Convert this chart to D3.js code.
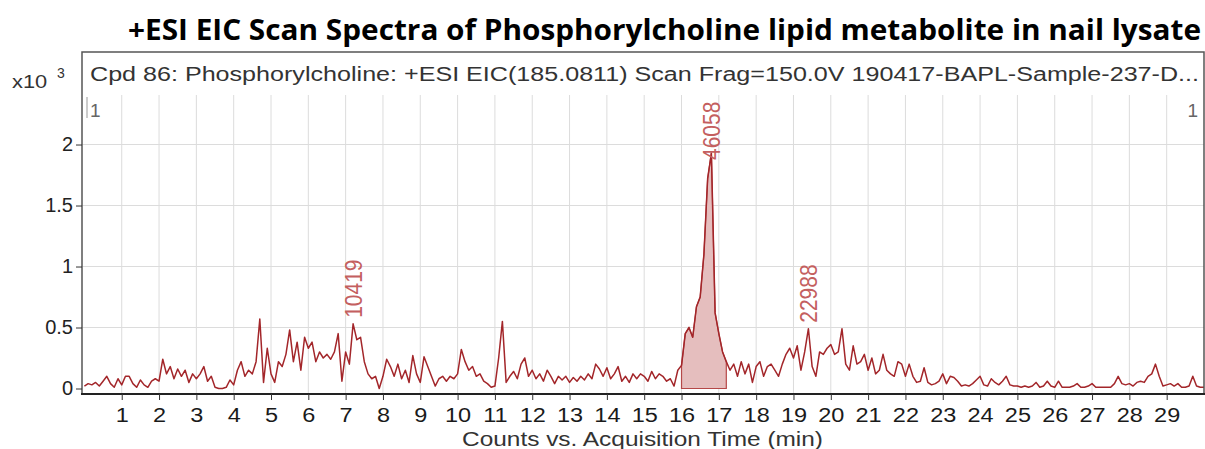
<!DOCTYPE html>
<html><head><meta charset="utf-8">
<script src="https://cdn.jsdelivr.net/npm/d3@7"></script>
<style>body{margin:0;background:#fff} svg{display:block}</style>
</head><body><svg id="c" width="1205" height="449"></svg>
<script>
// ---- data (counts x10^3, one reading every 0.1 min from 0.0 to 30.0 min) ----
const timeStep = 0.1;
const intensity = [
 0.02,0.04,0.03,0.05,0.02,0.06,0.10,0.04,0.01,0.08,
 0.03,0.10,0.10,0.04,0.01,0.07,0.03,0.01,0.06,0.08,
 0.06,0.24,0.12,0.18,0.08,0.16,0.10,0.15,0.05,0.12,
 0.08,0.12,0.18,0.06,0.10,0.01,0.00,0.00,0.01,0.07,
 0.03,0.15,0.22,0.10,0.15,0.12,0.22,0.57,0.05,0.33,
 0.12,0.05,0.22,0.18,0.28,0.48,0.22,0.38,0.15,0.42,
 0.33,0.38,0.22,0.30,0.25,0.28,0.24,0.30,0.45,0.06,
 0.30,0.20,0.53,0.40,0.42,0.22,0.12,0.08,0.10,0.00,
 0.10,0.24,0.18,0.10,0.20,0.08,0.15,0.05,0.27,0.12,
 0.05,0.26,0.18,0.10,0.02,0.08,0.10,0.06,0.10,0.08,
 0.12,0.32,0.22,0.15,0.18,0.10,0.12,0.06,0.04,0.01,
 0.02,0.25,0.55,0.05,0.10,0.14,0.08,0.20,0.25,0.10,
 0.15,0.08,0.12,0.06,0.15,0.10,0.04,0.10,0.07,0.10,
 0.05,0.09,0.06,0.10,0.07,0.12,0.08,0.20,0.16,0.10,
 0.17,0.08,0.12,0.18,0.06,0.10,0.05,0.12,0.08,0.12,
 0.10,0.06,0.14,0.08,0.12,0.10,0.06,0.08,0.02,0.15,
 0.19,0.45,0.50,0.42,0.67,0.75,1.10,1.72,1.93,0.62,
 0.45,0.30,0.22,0.15,0.20,0.10,0.22,0.12,0.20,0.05,
 0.18,0.22,0.10,0.18,0.20,0.15,0.10,0.20,0.28,0.33,
 0.25,0.35,0.15,0.30,0.49,0.18,0.10,0.30,0.28,0.33,
 0.36,0.28,0.30,0.49,0.20,0.15,0.35,0.20,0.22,0.28,
 0.15,0.25,0.12,0.15,0.28,0.15,0.12,0.10,0.22,0.20,
 0.10,0.20,0.10,0.05,0.06,0.17,0.05,0.03,0.04,0.06,
 0.12,0.04,0.10,0.09,0.06,0.02,0.03,0.02,0.04,0.07,
 0.10,0.03,0.02,0.08,0.05,0.03,0.06,0.10,0.03,0.02,
 0.02,0.01,0.02,0.01,0.02,0.05,0.01,0.02,0.06,0.02,
 0.01,0.06,0.01,0.01,0.01,0.02,0.04,0.01,0.01,0.02,
 0.04,0.01,0.01,0.01,0.01,0.01,0.04,0.10,0.04,0.03,
 0.04,0.02,0.05,0.06,0.05,0.10,0.12,0.20,0.10,0.02,
 0.03,0.04,0.02,0.04,0.01,0.01,0.02,0.10,0.02,0.01,
 0.01
];
const xTickValues = [1,2,3,4,5,6,7,8,9,10,11,12,13,14,15,16,17,18,19,20,21,22,23,24,25,26,27,28,29];
const yTickValues = [0,0.5,1,1.5,2];
const yTickLabels = ["0","0.5","1","1.5","2"];
const peakTimes = [7.2, 16.8, 19.4];
const peakHeights = [0.53, 1.93, 0.49];
const peakAreas = ["10419","46058","22988"];
const integration = [16.0, 17.2];
const titleText = "+ESI EIC Scan Spectra of Phosphorylcholine lipid metabolite in nail lysate";
const headerText = "Cpd 86: Phosphorylcholine: +ESI EIC(185.0811) Scan Frag=150.0V 190417-BAPL-Sample-237-D...";
const xTitle = "Counts vs. Acquisition Time (min)";

// ---- layout ----
const svg = d3.select("#c");
const F = "'Liberation Sans', Arial, sans-serif";
const frame = {l:82, r:1204, t:52, b:394};
const plotTop = 95;
const x = d3.scaleLinear().domain([0,30]).range([84.4,1204]);
const y = d3.scaleLinear().domain([-0.045,2.406]).range([394,plotTop]);
const pts = intensity.map((v,i)=>({t:+(i*timeStep).toFixed(2), v}));

// title
svg.append("text").attr("x",128).attr("y",40)
  .attr("font-family","'Open Sans', sans-serif").attr("font-weight","bold")
  .attr("font-size",28).attr("fill","#000")
  .attr("textLength",1073).attr("lengthAdjust","spacingAndGlyphs").text(titleText);

// frame background
svg.append("rect").attr("x",frame.l).attr("y",frame.t).attr("width",frame.r-frame.l).attr("height",frame.b-frame.t)
  .attr("fill","#fff");

// gridlines
svg.append("g").selectAll("line").data(xTickValues).join("line")
  .attr("x1",d=>x(d)).attr("x2",d=>x(d)).attr("y1",plotTop).attr("y2",frame.b)
  .attr("stroke","#dcdcdc").attr("stroke-width",1);
svg.append("g").selectAll("line").data(yTickValues.filter(d=>d>0)).join("line")
  .attr("x1",frame.l).attr("x2",frame.r).attr("y1",d=>y(d)).attr("y2",d=>y(d))
  .attr("stroke","#dcdcdc").attr("stroke-width",1);

// integrated fill
const seg = pts.filter(p=>p.t>=integration[0]-1e-9 && p.t<=integration[1]+1e-9);
const area = d3.area().x(d=>x(d.t)).y0(y(0)).y1(d=>y(d.v));
svg.append("path").datum(seg).attr("d",area)
  .attr("fill","#e5bebe").attr("stroke","#b54848").attr("stroke-width",1.2);

// trace
const line = d3.line().x(d=>x(d.t)).y(d=>y(d.v));
svg.append("path").datum(pts).attr("d",line)
  .attr("fill","none").attr("stroke","#a3262a").attr("stroke-width",1.5).attr("stroke-linejoin","round");

// frame
svg.append("path").attr("d",`M${frame.l},${frame.b}V${frame.t}H${frame.r}V${frame.b}`)
  .attr("fill","none").attr("stroke","#555").attr("stroke-width",1.5);
svg.append("line").attr("x1",frame.l-1).attr("x2",frame.r+1).attr("y1",frame.b).attr("y2",frame.b)
  .attr("stroke","#222").attr("stroke-width",2.2);

// x axis
const xa = svg.append("g").attr("transform",`translate(0,${frame.b})`)
  .call(d3.axisBottom(x).tickValues(xTickValues).tickSize(6).tickPadding(7).tickFormat(d3.format("d")));
xa.select(".domain").remove();
xa.selectAll(".tick line").attr("stroke","#333");
xa.selectAll(".tick text").attr("font-family",F).attr("font-size",21).attr("fill","#1a1a1a")
  .attr("transform","scale(1.12,1)");

// y axis
const ya = svg.append("g").attr("transform",`translate(${frame.l},0)`)
  .call(d3.axisLeft(y).tickValues(yTickValues).tickSize(6).tickPadding(3).tickFormat((d,i)=>yTickLabels[i]));
ya.select(".domain").remove();
ya.selectAll(".tick line").attr("stroke","#333");
ya.selectAll(".tick text").attr("font-family",F).attr("font-size",20).attr("fill","#222");

// x10^3 label
svg.append("text").attr("transform","translate(12,88) scale(1.15,1)").attr("font-family",F).attr("font-size",19).attr("fill","#333").text("x10");
svg.append("text").attr("x",57).attr("y",78).attr("font-family",F).attr("font-size",14).attr("fill","#333").text("3");

// header
svg.append("text").attr("x",90).attr("y",81).attr("font-family",F).attr("font-size",20).attr("fill","#333")
  .attr("textLength",1109).attr("lengthAdjust","spacingAndGlyphs").text(headerText);

// corner markers
svg.append("line").attr("x1",87).attr("x2",87).attr("y1",97).attr("y2",118).attr("stroke","#999");
svg.append("text").attr("x",90).attr("y",117).attr("font-family",F).attr("font-size",19).attr("fill","#666").text("1");
svg.append("text").attr("x",1198).attr("y",117).attr("text-anchor","end").attr("font-family",F).attr("font-size",19).attr("fill","#666").text("1");

// x title
svg.append("text").attr("x",462).attr("y",446).attr("font-family",F).attr("font-size",21).attr("fill","#333")
  .attr("textLength",361).attr("lengthAdjust","spacingAndGlyphs").text(xTitle);

// peak labels
peakTimes.forEach((t,i)=>{
  const len = 62;
  let base = y(peakHeights[i]) - 6;
  if (base - len < 98) base = 98 + len;
  svg.append("text")
    .attr("transform",`translate(${x(t)},${base}) scale(1.12,1) rotate(-90)`)
    .attr("dy","0.36em")
    .attr("font-family",F).attr("font-size",21).attr("fill","#c45f5f")
    .text(peakAreas[i]);
});
</script></body></html>
